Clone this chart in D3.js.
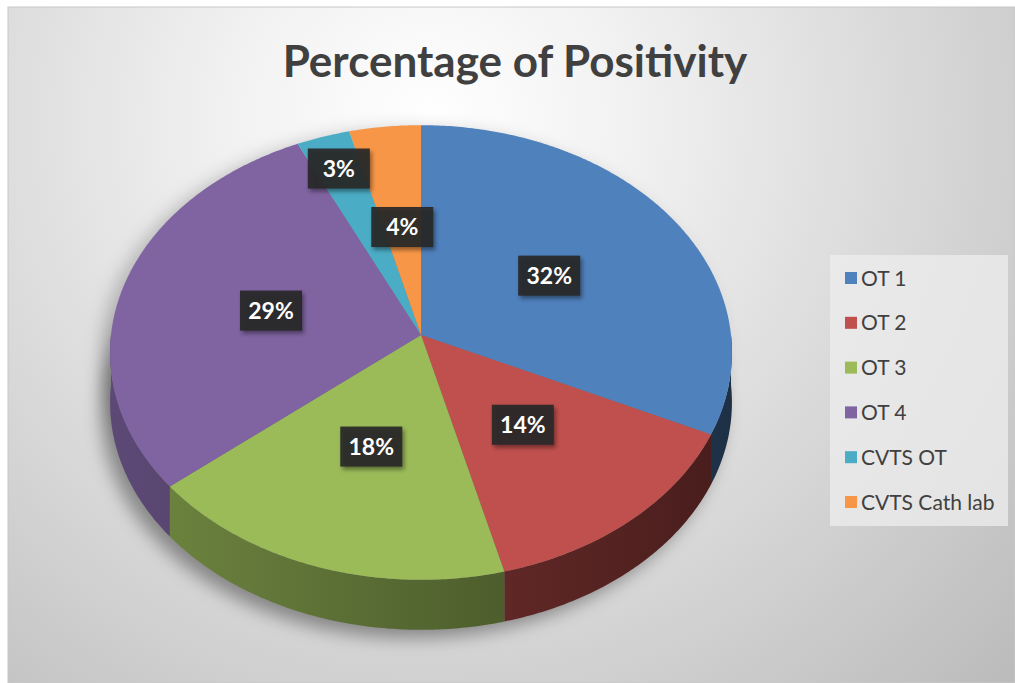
<!DOCTYPE html>
<html>
<head>
<meta charset="utf-8">
<script src="https://cdn.jsdelivr.net/npm/d3@7"></script>
<style>
  html, body { margin: 0; padding: 0; background: #fff; }
  .container { width: 1015px; height: 683px; }
</style>
</head>
<body>
<div class="container"></div>
<script>
const title = 'Percentage of Positivity'
const categories = ['OT 1', 'OT 2', 'OT 3', 'OT 4', 'CVTS OT', 'CVTS Cath lab']
const values = [32, 14, 18, 29, 3, 4]
const colors = ['#4f81bd', '#c0504d', '#9bbb59', '#8064a2', '#4bacc6', '#f79646']

const w = 1015
const h = 683
const font = 'Lato, "Open Sans", sans-serif'

// pie geometry (tilted disk with a little perspective)
const cx = 421
const cy = 335
const rx = 310
const ry = 226
const persp = 0.077
const depth = 50

const svg = d3.select('.container')
  .append('svg')
  .attr('width', w)
  .attr('height', h)

const defs = svg.append('defs')

const bg = defs.append('radialGradient')
  .attr('id', 'bg')
  .attr('gradientUnits', 'userSpaceOnUse')
  .attr('cx', 430).attr('cy', 120).attr('r', 820)
bg.append('stop').attr('offset', 0).attr('stop-color', '#ffffff')
bg.append('stop').attr('offset', 0.25).attr('stop-color', '#f1f1f1')
bg.append('stop').attr('offset', 0.65).attr('stop-color', '#d4d4d4')
bg.append('stop').attr('offset', 1).attr('stop-color', '#bababa')

defs.append('filter').attr('id', 'blur')
  .attr('x', '-20%').attr('y', '-20%').attr('width', '140%').attr('height', '140%')
  .append('feGaussianBlur').attr('stdDeviation', 9)

defs.append('filter').attr('id', 'boxShadow')
  .attr('x', '-30%').attr('y', '-30%').attr('width', '160%').attr('height', '160%')
  .append('feDropShadow')
  .attr('dx', 2).attr('dy', 3).attr('stdDeviation', 2)
  .attr('flood-color', '#000').attr('flood-opacity', 0.45)

// chart area
svg.append('rect')
  .attr('x', 8).attr('y', 7)
  .attr('width', w - 8).attr('height', h - 7)
  .attr('fill', 'url(#bg)')
  .attr('stroke', '#c8c8c8')

svg.append('text')
  .text(title)
  .attr('x', 515)
  .attr('y', 77)
  .attr('text-anchor', 'middle')
  .attr('font-family', font)
  .attr('font-weight', 'bold')
  .attr('font-size', 44)
  .attr('fill', '#404040')

// project angle (0 = top, clockwise) and radius fraction onto the screen
function proj(a, r, dz = 0) {
  const X = r * Math.sin(a)
  const Z = -r * Math.cos(a)
  const s = 1 / (1 - persp * Z)
  return [cx + rx * X * s, cy + ry * Z * s + dz]
}

function arcPoints(a0, a1, dz) {
  const n = Math.max(2, Math.ceil((a1 - a0) / 0.01))
  return d3.range(n + 1).map(i => proj(a0 + (a1 - a0) * i / n, 1, dz))
}

const line = d3.line()

const pie = d3.pie().sort(null).value(d => d)
const arcs = pie(values)

// soft shadow under the disk
const full = arcPoints(0, 2 * Math.PI, 0)
const fullBottom = arcPoints(0, 2 * Math.PI, depth)
svg.append('path')
  .attr('d', line(fullBottom) + 'Z')
  .attr('transform', 'translate(-9, 8)')
  .attr('fill', 'rgba(0,0,0,0.38)')
  .attr('filter', 'url(#blur)')
svg.append('path')
  .attr('d', line(full) + 'Z')
  .attr('transform', 'translate(-9, 4)')
  .attr('fill', 'rgba(0,0,0,0.22)')
  .attr('filter', 'url(#blur)')

// side gradients
colors.forEach((c, i) => {
  const g = defs.append('linearGradient')
    .attr('id', 'side' + i)
    .attr('gradientUnits', 'userSpaceOnUse')
    .attr('x1', cx - rx).attr('y1', 0)
    .attr('x2', cx + rx).attr('y2', 0)
  g.append('stop').attr('offset', 0).attr('stop-color', d3.color(c).darker(0.9))
  g.append('stop').attr('offset', 1).attr('stop-color', d3.color(c).darker(2.8))
})

// front side walls
const front0 = Math.PI / 2
const front1 = Math.PI * 3 / 2
arcs.forEach((d, i) => {
  const a0 = Math.max(d.startAngle, front0)
  const a1 = Math.min(d.endAngle, front1)
  if (a1 <= a0) return
  const top = arcPoints(a0, a1, 0)
  const bottom = arcPoints(a0, a1, depth).reverse()
  svg.append('path')
    .attr('d', line(top.concat(bottom)) + 'Z')
    .attr('fill', `url(#side${i})`)
})

// top faces
svg.selectAll('path.slice')
  .data(arcs)
  .enter()
  .append('path')
  .attr('class', 'slice')
  .attr('d', d => line([[cx, cy]].concat(arcPoints(d.startAngle, d.endAngle, 0))) + 'Z')
  .attr('fill', (d, i) => colors[i])

// data labels, placed from the last slice back, pushed outward on overlap
const total = d3.sum(values)
const boxW = 62
const boxH = 40
const gap = 17
const placed = []
const labels = []
for (let i = arcs.length - 1; i >= 0; i--) {
  const d = arcs[i]
  const mid = (d.startAngle + d.endAngle) / 2
  let f = 0.5
  let p = proj(mid, f)
  const hits = q => placed.some(b => Math.abs(b[0] - q[0]) < boxW + gap && Math.abs(b[1] - q[1]) < boxH + gap)
  while (hits(p) && f < 1.2) {
    f += 0.01
    p = proj(mid, f)
  }
  placed.push(p)
  labels.push({ p, text: Math.round(values[i] / total * 100) + '%' })
}

const lab = svg.selectAll('g.label')
  .data(labels)
  .enter()
  .append('g')
  .attr('class', 'label')
  .attr('transform', d => `translate(${d.p[0]}, ${d.p[1]})`)

lab.append('rect')
  .attr('x', -boxW / 2)
  .attr('y', -boxH / 2)
  .attr('width', boxW)
  .attr('height', boxH)
  .attr('fill', 'rgba(38,38,38,0.92)')
  .attr('filter', 'url(#boxShadow)')

lab.append('text')
  .text(d => d.text)
  .attr('text-anchor', 'middle')
  .attr('dy', '0.36em')
  .attr('font-family', font)
  .attr('font-weight', 'bold')
  .attr('font-size', 23)
  .attr('fill', '#fff')

// legend
const legend = svg.append('g')
legend.append('rect')
  .attr('x', 830)
  .attr('y', 255)
  .attr('width', 178)
  .attr('height', 271)
  .attr('fill', 'rgba(238,238,238,0.75)')

const item = legend.selectAll('g.item')
  .data(categories)
  .enter()
  .append('g')
  .attr('class', 'item')
  .attr('transform', (d, i) => `translate(845, ${278 + i * 44.8})`)

item.append('rect')
  .attr('x', 0)
  .attr('y', -6)
  .attr('width', 12)
  .attr('height', 12)
  .attr('fill', (d, i) => colors[i])

item.append('text')
  .text(d => d)
  .attr('x', 16)
  .attr('dy', '0.36em')
  .attr('font-family', font)
  .attr('font-size', 21)
  .attr('fill', '#404040')
</script>
</body>
</html>
